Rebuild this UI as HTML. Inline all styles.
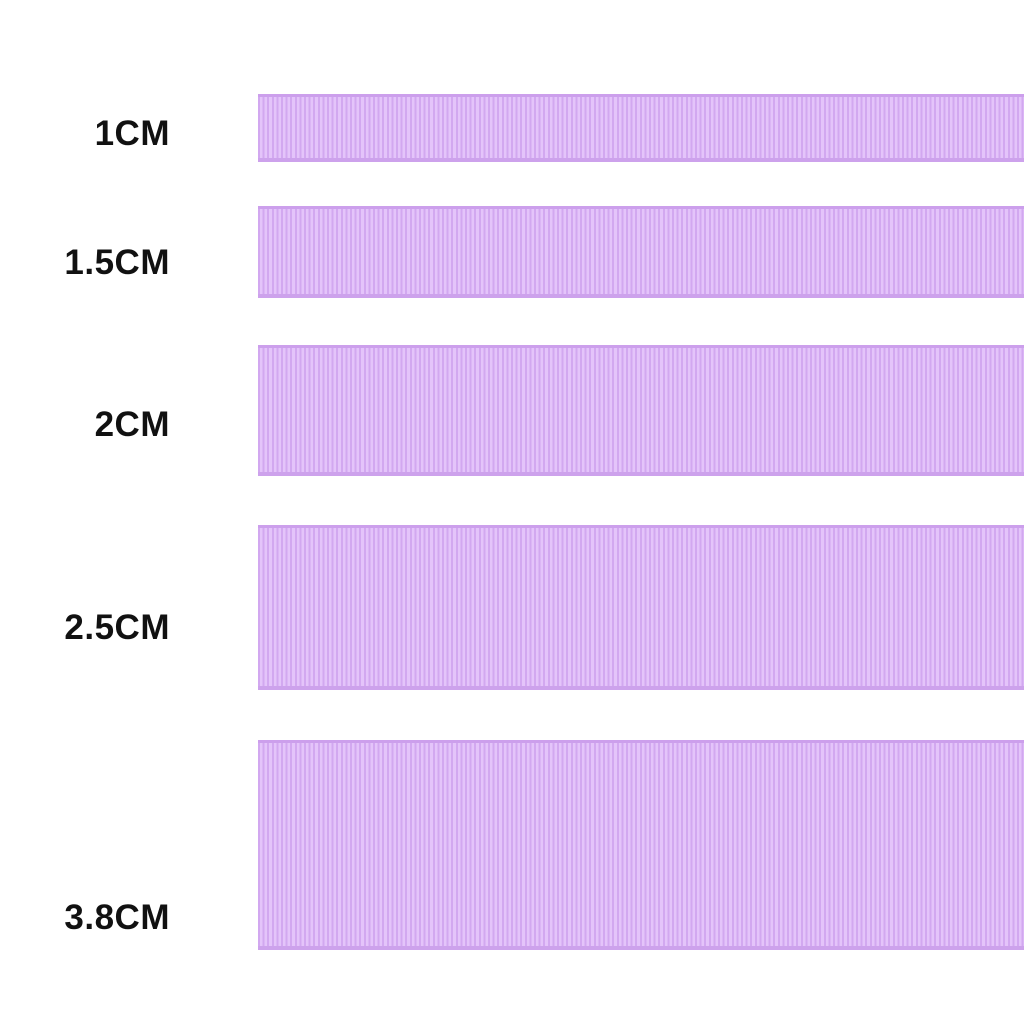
<!DOCTYPE html>
<html><head><style>
body{margin:0;width:1024px;height:1024px;background:#fff;position:relative;overflow:hidden;font-family:"Liberation Sans",sans-serif}
.r{position:absolute;left:258px;right:0;background:repeating-linear-gradient(90deg,#d2a8f0 0,#d2a8f0 2px,#e4c4fa 2px,#e4c4fa 4.6px);box-shadow:inset 0 3px 0 #cc9fec,inset 0 -4px 0 #cda2ec}
.l{position:absolute;right:854px;font-weight:bold;font-size:35px;color:#111;line-height:1;letter-spacing:0.5px}
</style></head><body>
<div class="r" style="top:94px;height:68px"></div>
<div class="r" style="top:206px;height:92px"></div>
<div class="r" style="top:345px;height:131px"></div>
<div class="r" style="top:525px;height:165px"></div>
<div class="r" style="top:740px;height:210px"></div>
<div class="l" style="top:116px">1CM</div>
<div class="l" style="top:245px">1.5CM</div>
<div class="l" style="top:407px">2CM</div>
<div class="l" style="top:610px">2.5CM</div>
<div class="l" style="top:900px">3.8CM</div>
</body></html>
